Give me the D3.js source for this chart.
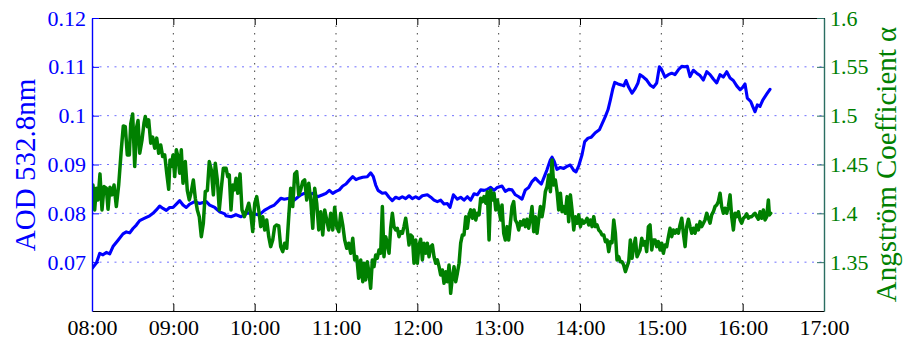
<!DOCTYPE html>
<html>
<head>
<meta charset="utf-8">
<script src="https://cdn.jsdelivr.net/npm/d3@7"></script>
<style>
  html, body { margin: 0; padding: 0; background: #fff; }
  svg { display: block; }
  text { font-family: "Liberation Serif", "Times New Roman", serif; }
</style>
</head>
<body>
<svg id="chart" width="903" height="340"></svg>
<script>
// Time of day (decimal hours) and aerosol optical depth at 532.8 nm
const aodTime = [8.000,8.053,8.095,8.135,8.176,8.218,8.258,8.320,8.381,8.422,8.464,8.504,8.545,8.586,8.648,8.709,8.750,8.791,8.832,8.873,8.914,8.955,8.996,9.037,9.078,9.119,9.159,9.201,9.263,9.324,9.365,9.405,9.447,9.509,9.570,9.632,
  9.648,9.709,9.771,9.832,9.873,9.914,9.976,10.037,10.078,10.119,10.180,10.242,10.283,10.324,10.364,10.426,10.487,10.529,10.570,10.610,10.672,10.714,10.775,10.837,10.877,10.918,10.960,11.000,11.041,11.083,11.123,11.164,11.206,11.246,11.287,11.328,
  11.385,11.427,11.459,11.488,11.517,11.569,11.611,11.652,11.692,11.734,11.775,11.815,11.857,11.898,11.938,11.980,12.021,12.061,12.123,12.165,12.205,12.246,12.288,12.328,12.369,12.402,12.443,12.492,12.533,12.574,12.615,12.656,12.697,12.737,12.779,12.820,12.860,12.902,12.943,12.983,
  13.041,13.082,13.124,13.164,13.205,13.247,13.287,13.328,13.369,13.410,13.451,13.492,13.525,13.554,13.594,13.635,13.656,13.684,13.717,13.758,13.800,13.840,13.881,13.923,13.951,13.984,14.025,14.058,14.099,14.139,14.188,14.238,14.271,14.311,14.344,14.373,14.402,14.427,14.467,14.508,14.538,14.566,14.599,14.640,14.680,14.713,
  14.738,14.779,14.820,14.861,14.902,14.943,14.976,15.005,15.045,15.086,15.128,15.168,15.209,15.251,15.291,15.320,15.353,15.393,15.435,15.476,15.517,15.558,15.599,15.639,15.681,15.722,15.762,15.804,15.845,15.885,15.927,15.968,16.000,16.029,16.057,16.099,16.123,16.152,16.180,16.213,16.247,16.275,16.303,16.336];
const aodValue = [0.0687,0.0698,0.0718,0.0715,0.0720,0.0717,0.0732,0.0745,0.0758,0.0762,0.0760,0.0769,0.0776,0.0785,0.0790,0.0795,0.0800,0.0807,0.0815,0.0810,0.0806,0.0812,0.0812,0.0819,0.0826,0.0817,0.0812,0.0819,0.0824,0.0820,0.0822,0.0824,0.0817,0.0812,0.0803,0.0799,
  0.0795,0.0793,0.0797,0.0793,0.0797,0.0801,0.0800,0.0797,0.0800,0.0806,0.0812,0.0817,0.0824,0.0831,0.0829,0.0831,0.0827,0.0833,0.0838,0.0841,0.0838,0.0841,0.0834,0.0838,0.0841,0.0847,0.0841,0.0845,0.0848,0.0856,0.0860,0.0868,0.0875,0.0869,0.0872,0.0874,
  0.0875,0.0883,0.0875,0.0858,0.0847,0.0841,0.0842,0.0833,0.0826,0.0833,0.0830,0.0834,0.0830,0.0836,0.0830,0.0834,0.0830,0.0836,0.0838,0.0833,0.0827,0.0824,0.0827,0.0819,0.0820,0.0812,0.0838,0.0829,0.0833,0.0827,0.0834,0.0827,0.0840,0.0838,0.0848,0.0847,0.0849,0.0853,0.0847,0.0853,
  0.0856,0.0845,0.0849,0.0848,0.0838,0.0834,0.0829,0.0848,0.0853,0.0865,0.0872,0.0865,0.0860,0.0872,0.0889,0.0909,0.0915,0.0906,0.0890,0.0894,0.0892,0.0896,0.0899,0.0888,0.0885,0.0897,0.0920,0.0947,0.0954,0.0956,0.0965,0.0971,0.0983,0.0998,0.1012,0.1032,0.1054,0.1068,0.1065,0.1063,0.1061,0.1072,0.1058,0.1046,0.1056,0.1067,
  0.1084,0.1079,0.1073,0.1063,0.1058,0.1067,0.1100,0.1094,0.1079,0.1084,0.1087,0.1084,0.1094,0.1101,0.1100,0.1101,0.1080,0.1093,0.1087,0.1082,0.1073,0.1090,0.1084,0.1075,0.1067,0.1084,0.1079,0.1090,0.1077,0.1072,0.1061,0.1053,0.1058,0.1065,0.1036,0.1029,0.1019,0.1008,0.1022,0.1019,0.1032,0.1039,0.1046,0.1054];

// Time of day (decimal hours) and Angstrom exponent
const alphaTime = [8.000,8.012,8.033,8.053,8.074,8.098,8.123,8.148,8.176,8.197,8.221,8.246,8.271,8.299,8.328,8.360,8.385,8.409,8.434,8.459,8.476,8.500,8.525,8.550,8.566,8.587,8.615,8.639,8.655,8.680,8.697,8.722,8.746,8.771,8.796,8.820,8.845,8.869,8.894,8.919,8.943,8.959,8.975,8.996,9.017,9.037,9.057,9.078,9.098,9.119,9.147,9.172,9.196,9.221,9.246,9.270,9.295,9.319,9.344,9.369,9.393,9.418,9.442,9.467,9.492,9.516,9.541,9.565,9.590,9.615,
  9.648,9.669,9.688,9.709,9.730,9.750,9.771,9.792,9.820,9.844,9.873,9.902,9.927,9.951,9.976,10.001,10.025,10.050,10.074,10.099,10.124,10.148,10.173,10.197,10.222,10.246,10.271,10.296,10.320,10.345,10.369,10.394,10.419,10.443,10.468,10.492,10.517,10.542,10.566,10.591,10.615,10.640,10.665,10.689,10.714,10.738,10.763,10.788,10.812,10.837,10.861,10.886,10.910,10.935,10.960,10.984,11.009,11.034,11.058,11.083,11.107,11.132,11.156,11.181,11.206,11.230,11.255,11.279,11.304,11.329,
  11.344,11.365,11.385,11.406,11.426,11.447,11.467,11.488,11.508,11.529,11.549,11.570,11.590,11.611,11.631,11.652,11.672,11.693,11.713,11.734,11.754,11.775,11.795,11.816,11.836,11.857,11.877,11.898,11.918,11.939,11.959,11.980,12.000,12.021,12.041,12.062,12.082,12.103,12.123,12.144,12.164,12.185,12.205,12.226,12.246,12.267,12.287,12.308,12.328,12.349,12.369,12.390,12.410,12.431,12.451,12.472,12.492,12.513,12.533,12.554,12.574,12.595,12.615,12.636,12.656,12.677,12.697,12.718,12.738,12.759,12.779,12.800,12.820,12.841,12.861,12.882,12.902,12.923,12.943,12.964,12.984,13.004,13.025,
  13.041,13.062,13.082,13.103,13.123,13.144,13.164,13.185,13.205,13.226,13.246,13.267,13.287,13.308,13.328,13.349,13.369,13.390,13.410,13.431,13.451,13.472,13.492,13.513,13.533,13.554,13.574,13.595,13.615,13.636,13.656,13.677,13.697,13.718,13.738,13.759,13.779,13.800,13.820,13.841,13.861,13.882,13.902,13.923,13.943,13.964,13.984,14.005,14.025,14.046,14.066,14.087,14.107,14.128,14.148,14.169,14.189,14.210,14.230,14.251,14.271,14.292,14.312,14.333,14.353,14.374,14.394,14.415,14.435,14.455,14.476,14.496,14.517,14.537,14.558,14.578,14.599,14.619,14.640,14.660,14.681,14.701,
  14.738,14.759,14.779,14.800,14.820,14.841,14.861,14.882,14.902,14.923,14.943,14.964,14.984,15.005,15.025,15.046,15.066,15.087,15.107,15.128,15.148,15.169,15.189,15.210,15.230,15.251,15.271,15.292,15.312,15.333,15.353,15.374,15.394,15.415,15.435,15.456,15.476,15.497,15.517,15.537,15.558,15.578,15.599,15.619,15.640,15.660,15.681,15.701,15.722,15.742,15.763,15.783,15.804,15.824,15.845,15.865,15.886,15.906,15.927,15.947,15.968,15.988,16.009,16.029,16.050,16.070,16.091,16.111,16.132,16.152,16.173,16.193,16.214,16.234,16.255,16.275,16.296,16.316,16.329,16.345];
const alphaValue = [1.4171,1.4290,1.4035,1.4257,1.4137,1.4404,1.4035,1.4274,1.4257,1.4042,1.4267,1.4189,1.4290,1.4069,1.4290,1.4650,1.4895,1.4888,1.4598,1.4598,1.4916,1.5018,1.4479,1.4888,1.4950,1.4616,1.4752,1.4923,1.4991,1.4888,1.4957,1.4718,1.4780,1.4667,1.4770,1.4616,1.4700,1.4581,1.4598,1.4411,1.4247,1.4547,1.4479,1.4598,1.4376,1.4650,1.4581,1.4411,1.4650,1.4308,1.4530,1.4233,1.4137,1.4222,1.4342,1.4155,1.4035,1.3966,1.3761,1.3899,1.4222,1.4233,1.4530,1.4445,1.4189,1.4513,1.4342,1.4035,1.4257,1.4462,
  1.4462,1.4376,1.4393,1.4035,1.4290,1.4240,1.4360,1.4206,1.4404,1.4035,1.3966,1.4035,1.4104,1.4001,1.3813,1.4104,1.4171,1.4035,1.3864,1.3966,1.3830,1.3932,1.3761,1.3659,1.3727,1.3864,1.3881,1.3871,1.3659,1.3608,1.3694,1.3642,1.3966,1.4257,1.4069,1.4404,1.4427,1.4189,1.4240,1.4325,1.4342,1.4137,1.4308,1.4137,1.3847,1.4257,1.4104,1.3830,1.4017,1.3779,1.4035,1.3932,1.3830,1.4001,1.3830,1.4063,1.3864,1.3812,1.4001,1.3881,1.3727,1.3642,1.3694,1.3591,1.3745,1.3523,1.3556,1.3335,1.3523,1.3300,
  1.3489,1.3318,1.3505,1.3386,1.3233,1.3523,1.3454,1.3574,1.3540,1.3625,1.3591,1.4069,1.3556,1.3761,1.3694,1.3591,1.3847,1.4001,1.3864,1.3830,1.3847,1.3761,1.3812,1.3796,1.3864,1.3950,1.3830,1.3676,1.3779,1.3761,1.3489,1.3727,1.3489,1.3676,1.3735,1.3523,1.3694,1.3591,1.3694,1.3556,1.3659,1.3676,1.3556,1.3489,1.3523,1.3454,1.3369,1.3420,1.3284,1.3403,1.3300,1.3471,1.3181,1.3351,1.3454,1.3300,1.3386,1.3489,1.3694,1.3779,1.3779,1.3966,1.3847,1.3984,1.4035,1.3950,1.4035,1.3932,1.4001,1.3984,1.4155,1.4120,1.4171,1.4104,1.4222,1.3727,1.4240,1.4137,1.4206,1.4035,1.4137,1.4035,1.3932,
  1.4086,1.3796,1.3727,1.3864,1.3727,1.3899,1.4069,1.4120,1.3932,1.3899,1.3830,1.3915,1.3881,1.3932,1.3864,1.3940,1.3847,1.3950,1.4069,1.3812,1.3966,1.3796,1.3932,1.4069,1.3966,1.4069,1.4222,1.4274,1.4393,1.4222,1.4547,1.4290,1.4342,1.4222,1.4035,1.4206,1.4017,1.4069,1.4001,1.4171,1.3915,1.4189,1.4035,1.3830,1.3966,1.3899,1.3984,1.3864,1.3932,1.3899,1.3915,1.3950,1.3881,1.3932,1.3864,1.3966,1.3864,1.3881,1.3830,1.3812,1.3779,1.3779,1.3710,1.3727,1.3608,1.3710,1.3700,1.3932,1.3796,1.3523,1.3556,1.3505,1.3505,1.3471,1.3403,1.3454,1.3505,1.3727,1.3540,1.3659,1.3745,1.3556,
  1.3625,1.3745,1.3676,1.3710,1.3608,1.3864,1.3881,1.3625,1.3727,1.3727,1.3659,1.3710,1.3625,1.3694,1.3591,1.3676,1.3659,1.3761,1.3847,1.3761,1.3830,1.3796,1.3830,1.3796,1.3881,1.3950,1.3796,1.3659,1.3864,1.3940,1.3864,1.3796,1.3847,1.3796,1.3881,1.3830,1.3915,1.3864,1.3899,1.3932,1.4001,1.3950,1.3899,1.3984,1.4017,1.4069,1.4086,1.4120,1.4206,1.4069,1.4001,1.4052,1.4001,1.4069,1.4189,1.3966,1.3830,1.4001,1.3966,1.4017,1.3932,1.3899,1.3950,1.3966,1.3994,1.3950,1.3966,1.3966,1.3984,1.4001,1.3966,1.3940,1.4017,1.3950,1.4035,1.3932,1.3966,1.4137,1.3984,1.4001];

// Axis ticks
const hourTicks = [8, 9, 10, 11, 12, 13, 14, 15, 16, 17];
const aodTicks = [0.07, 0.08, 0.09, 0.1, 0.11, 0.12];
const alphaTicks = [1.35, 1.4, 1.45, 1.5, 1.55, 1.6];

const W = 903, H = 340;
const margin = { left: 92, right: 79, top: 18, bottom: 29 };
const x0 = margin.left, x1 = W - margin.right;
const y0 = margin.top, y1 = H - margin.bottom;

const BLUE = "#0000ff", GREEN = "#008000", TEAL = "#2a6e62";
const SERIF = "Liberation Serif, Times New Roman, serif";

const x = d3.scaleLinear().domain([8, 17]).range([x0, x1]);
const yL = d3.scaleLinear().domain([0.06, 0.12]).range([y1, y0]);
const yR = d3.scaleLinear().domain([1.3, 1.6]).range([y1, y0]);

const svg = d3.select("#chart");

svg.append("defs").append("clipPath").attr("id", "plot-clip")
  .append("rect").attr("x", x0).attr("y", y0).attr("width", x1 - x0).attr("height", y1 - y0);

// Dotted grid
const grid = svg.append("g");
grid.selectAll("line.vgrid").data(hourTicks.slice(1, -1)).join("line")
  .attr("x1", d => x(d)).attr("x2", d => x(d))
  .attr("y1", y0).attr("y2", y1)
  .attr("stroke", "#444").attr("stroke-width", 1)
  .attr("stroke-dasharray", "1.5 6");
grid.selectAll("line.hgrid").data(aodTicks.slice(0, -1)).join("line")
  .attr("x1", x0).attr("x2", x1)
  .attr("y1", d => yL(d)).attr("y2", d => yL(d))
  .attr("stroke", "#7070ff").attr("stroke-width", 1)
  .attr("stroke-dasharray", "2 5.5");

// Data lines (Angstrom exponent drawn over AOD)
const plot = svg.append("g").attr("clip-path", "url(#plot-clip)");
const aodLine = d3.line().x((d, i) => x(aodTime[i])).y(d => yL(d));
const alphaLine = d3.line().x((d, i) => x(alphaTime[i])).y(d => yR(d));

plot.append("path").datum(aodValue).attr("d", aodLine)
  .attr("fill", "none").attr("stroke", BLUE).attr("stroke-width", 3.1)
  .attr("stroke-linejoin", "round").attr("stroke-linecap", "round");
plot.append("path").datum(alphaValue).attr("d", alphaLine)
  .attr("fill", "none").attr("stroke", GREEN).attr("stroke-width", 3.5)
  .attr("stroke-linejoin", "round").attr("stroke-linecap", "round");

// Axes
const fmtHour = h => String(h).padStart(2, "0") + ":00";

const axB = svg.append("g").attr("transform", `translate(0,${y1})`)
  .call(d3.axisBottom(x).tickValues(hourTicks).tickFormat(fmtHour).tickSize(-7).tickSizeOuter(0).tickPadding(8.5));
const axT = svg.append("g").attr("transform", `translate(0,${y0})`)
  .call(d3.axisTop(x).tickValues(hourTicks).tickFormat("").tickSize(-7).tickSizeOuter(0));
const axL = svg.append("g").attr("transform", `translate(${x0},0)`)
  .call(d3.axisLeft(yL).tickValues(aodTicks).tickFormat(d3.format("")).tickSize(-7).tickSizeOuter(0).tickPadding(6));
const axR = svg.append("g").attr("transform", `translate(${x1},0)`)
  .call(d3.axisRight(yR).tickValues(alphaTicks).tickFormat(d3.format("")).tickSize(-7).tickSizeOuter(0).tickPadding(6));

[axB, axT].forEach(g => {
  g.select(".domain").attr("stroke", "#000").attr("stroke-width", 1.2);
  g.selectAll(".tick line").attr("stroke", "#000");
});
axB.selectAll("text").attr("fill", "#000").attr("font-size", 22).attr("font-family", SERIF);
axL.select(".domain").attr("stroke", BLUE).attr("stroke-width", 1.4);
axL.selectAll(".tick line").attr("stroke", BLUE);
axL.selectAll("text").attr("fill", BLUE).attr("font-size", 22).attr("font-family", SERIF);
axR.select(".domain").attr("stroke", TEAL).attr("stroke-width", 1.4);
axR.selectAll(".tick line").attr("stroke", TEAL);
axR.selectAll("text").attr("fill", GREEN).attr("font-size", 22).attr("font-family", SERIF);

// Axis titles
svg.append("text")
  .attr("transform", `translate(35,${(y0 + y1) / 2 + 0.5}) rotate(-90)`)
  .attr("text-anchor", "middle").attr("fill", BLUE).attr("font-size", 29)
  .text("AOD 532.8nm");
svg.append("text")
  .attr("transform", `translate(896,${(y0 + y1) / 2}) rotate(-90)`)
  .attr("text-anchor", "middle").attr("fill", GREEN).attr("font-size", 29)
  .text("Angström Coefficient α");
</script>
</body>
</html>
